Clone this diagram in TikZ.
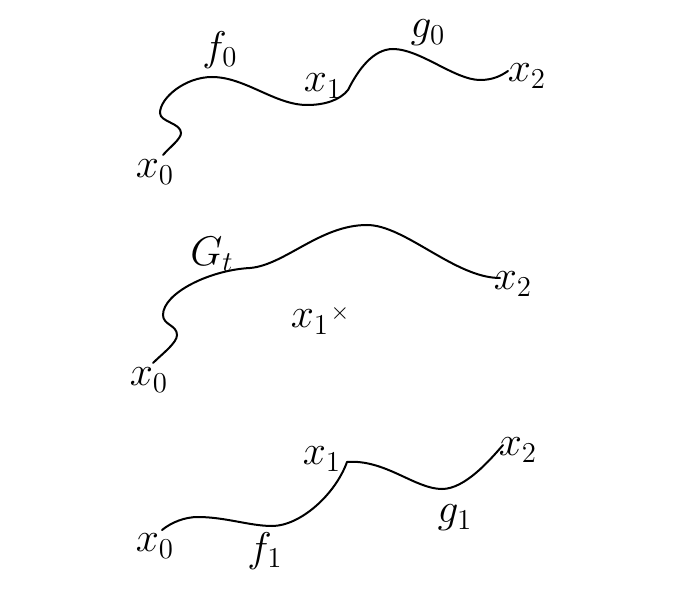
\documentclass[tikz,border=0pt]{standalone}
\begin{document}
\begin{tikzpicture}[x=0.5pt,y=-0.5pt,
    wiggle/.style={line width=1pt,line cap=round},
    lbl/.style={font=\fontsize{22}{26}\selectfont,inner sep=0pt}]
  \useasboundingbox (0,0) rectangle (674,604);

  % top: f_0 then g_0
  \draw[wiggle] (163,155) .. controls (170,147) and (181,139) .. (181,133)
    .. controls (181,123) and (160,122) .. (160,113)
    .. controls (160,98) and (185,77) .. (212,77)
    .. controls (245,77) and (275,105) .. (307,105)
    .. controls (325,105) and (340,100) .. (348,90);
  \draw[wiggle] (348,90) .. controls (358,70) and (373,49) .. (393,49)
    .. controls (420,49) and (455,80) .. (480,80)
    .. controls (494,80) and (502,75) .. (508,71);
  \node[lbl] (ta) at (155,172) {$x_0$};
  \node[lbl] (tf) at (220,50) {$f_0$};
  \node[lbl] (tb) at (323,86) {$x_1$};
  \node[lbl] (tg) at (428,33) {$g_0$};
  \node[lbl] (tc) at (527,76) {$x_2$};

  % middle: G_t
  \draw[wiggle] (153,363) .. controls (162,354) and (177,343) .. (177,335)
    .. controls (177,325) and (163,325) .. (163,315)
    .. controls (163,293) and (210,270) .. (250,268)
    .. controls (285,265) and (320,225) .. (367,225)
    .. controls (405,225) and (455,278) .. (500,278);
  \node[lbl] (ma) at (149,380) {$x_0$};
  \node[lbl] (mG) at (212,254) {$G_t$};
  \node[lbl] (mb) at (310,322) {$x_1$};
  \node[font=\fontsize{13}{15}\selectfont,inner sep=0pt] (mx) at (340,313) {$\times$};
  \node[lbl] (mc) at (513,284) {$x_2$};

  % bottom: f_1 then g_1
  \draw[wiggle] (162,530) .. controls (172,522) and (185,517) .. (198,517)
    .. controls (225,517) and (250,526) .. (272,526)
    .. controls (300,526) and (335,495) .. (347,462);
  \draw[wiggle] (347,462) .. controls (385,459) and (415,489) .. (442,489)
    .. controls (465,489) and (490,460) .. (503,445);
  \node[lbl] (ba) at (155,546) {$x_0$};
  \node[lbl] (bf) at (265,551) {$f_1$};
  \node[lbl] (bb) at (322,459) {$x_1$};
  \node[lbl] (bg) at (455,518) {$g_1$};
  \node[lbl] (bc) at (518,450) {$x_2$};
\end{tikzpicture}
\end{document}
